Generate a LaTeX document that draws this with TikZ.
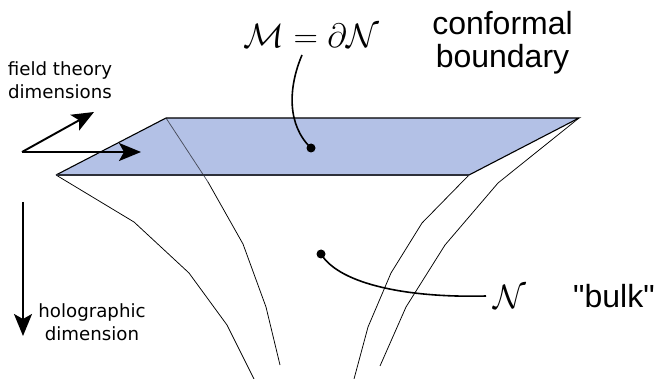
\documentclass[tikz,border=0pt]{standalone}
\usepackage{fontspec}
\setmainfont{DejaVu Sans}
\newfontfamily\lib{Liberation Sans}
\usetikzlibrary{arrows.meta}
\definecolor{planeblue}{RGB}{179,193,230}
\tikzset{
  thinline/.style={draw=black,line width=0.75pt,line join=miter},
  arrowline/.style={draw=black,line width=1.9pt,-{Stealth[length=22pt,width=18pt,inset=5pt]}},
  leader/.style={draw=black,line width=1.6pt},
  blob/.style={circle,fill=black,inner sep=0pt,minimum size=9pt},
  smalltext/.style={font=\fontsize{18.2}{23.5}\selectfont,align=center,inner sep=0pt},
  bigtext/.style={font=\lib\fontsize{32}{33}\selectfont,align=center,inner sep=0pt},
  mathtext/.style={font=\fontsize{24.88}{30}\selectfont,inner sep=0pt,scale=1.36,transform shape}
}
\begin{document}
\begin{tikzpicture}[x=1pt,y=-1pt]
\useasboundingbox (0,0) rectangle (658,379);
% corners
\coordinate (a) at (56,175);
\coordinate (b) at (166,118);
\coordinate (c) at (579,118);
\coordinate (d) at (469,175);
% funnel edges
\draw[thinline] (a) -- (134,222) -- (189,273) -- (227,325) -- (254,379);
\draw[thinline] (d) -- (422,223) -- (391,273) -- (368,327) -- (354,379);
\draw[thinline] (c) -- (498,183) -- (445,245) -- (406,307) -- (380,366);
\draw[thinline] (208,182) -- (243,244) -- (266,307) -- (280,365);
% plane
\fill[planeblue] (a) -- (b) -- (c) -- (d) -- cycle;
\draw[thinline,draw=black!60!planeblue] (b) -- (208,182);
\draw[draw=black,line width=1.1pt,line join=miter] (a) -- (b) -- (c) -- (d);
\draw[draw=black!75!planeblue,line width=1.1pt] (d) -- (a);
% axes
\coordinate (o) at (22,152);
\coordinate (e1) at (94,112);
\coordinate (e2) at (141,152);
\coordinate (t3) at (23,202);
\coordinate (e3) at (23,336);
\draw[arrowline] (o) -- (e1);
\draw[arrowline] (o) -- (e2);
\draw[arrowline] (t3) -- (e3);
% labels
\node[smalltext] (ft) at (60,80) {field theory\\dimensions};
\node[smalltext] (hd) at (92,322) {holographic\\dimension};
\node[bigtext] (cb) at (502.5,43) {conformal\\boundary};
\node[bigtext,anchor=west] (bk) at (573,296) {"bulk"};
\node[mathtext] (m) at (311.5,36) {$\mathcal{M}=\partial\mathcal{N}$};
\node[mathtext] (n) at (510,297) {$\mathcal{N}$};
% leaders
\node[blob] (p1) at (311,148) {};
\node[blob] (p2) at (321,254) {};
\coordinate (l1) at (302,55);
\coordinate (l2) at (486,296);
\draw[leader] (l1) .. controls (288,88) and (287,125) .. (p1.center);
\draw[leader] (p2.center) .. controls (340,285) and (410,298) .. (l2);
\end{tikzpicture}
\end{document}
